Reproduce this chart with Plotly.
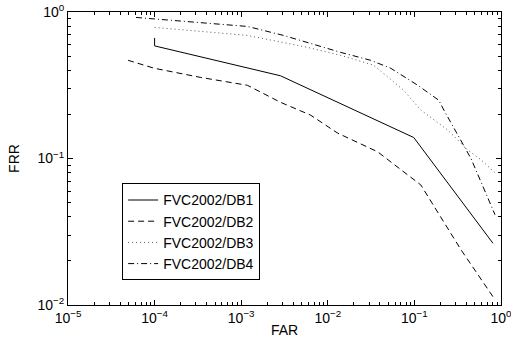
import plotly.graph_objects as go

# ---- data ----
db1_far = [1e-4, 1e-4, 2.84e-3, 0.0984, 0.807]
db1_frr = [0.665, 0.587, 0.367, 0.139, 0.0264]

db2_far = [4.94e-5, 9.9e-5, 3.37e-4, 1.18e-3, 2.84e-3, 6.3e-3, 0.013, 0.0377, 0.1186, 0.202, 0.344, 0.807]
db2_frr = [0.468, 0.413, 0.358, 0.316, 0.242, 0.198, 0.149, 0.111, 0.066, 0.040, 0.0239, 0.0114]

db3_far = [1.0e-4, 1.18e-3, 5.8e-3, 0.0141, 0.0339, 0.0753, 0.1186, 0.244, 0.415, 0.588, 0.853]
db3_frr = [0.785, 0.692, 0.574, 0.506, 0.433, 0.292, 0.214, 0.156, 0.114, 0.098, 0.080]

db4_far = [6.1e-5, 1.18e-3, 3.08e-3, 0.0141, 0.0313, 0.0533, 0.1094, 0.191, 0.219, 0.45, 0.853]
db4_frr = [0.918, 0.797, 0.692, 0.530, 0.468, 0.413, 0.316, 0.250, 0.214, 0.100, 0.0413]

series_names = ["FVC2002/DB1", "FVC2002/DB2", "FVC2002/DB3", "FVC2002/DB4"]

x_decades = [1e-5, 1e-4, 1e-3, 1e-2, 1e-1, 1e0]
x_ticktext = ["10<sup>−5</sup>", "10<sup>−4</sup>", "10<sup>−3</sup>", "10<sup>−2</sup>", "10<sup>−1</sup>", "10<sup>0</sup>"]
y_decades = [1e-2, 1e-1, 1e0]
y_ticktext = ["10<sup>−2</sup>", "10<sup>−1</sup>", "10<sup>0</sup>"]
minor_mults = [2, 3, 4, 5, 6, 7, 8, 9]

x_minor = [d * m for d in x_decades[:-1] for m in minor_mults]
y_minor = [d * m for d in y_decades[:-1] for m in minor_mults]

FONT = "Liberation Sans, Arial, sans-serif"

fig = go.Figure()
styles = [
    dict(color="black", width=1, dash="solid"),
    dict(color="black", width=1, dash="6px,4px"),
    dict(color="#555555", width=1, dash="1px,3px"),
    dict(color="black", width=1, dash="6px,3px,1px,3px"),
]
data = [(db1_far, db1_frr), (db2_far, db2_frr), (db3_far, db3_frr), (db4_far, db4_frr)]
for (xs, ys), name, st in zip(data, series_names, styles):
    fig.add_trace(go.Scatter(x=xs, y=ys, mode="lines", name=name, line=st))

axis_common = dict(
    type="log",
    automargin=False,
    showgrid=False,
    zeroline=False,
    showline=True,
    linecolor="black",
    linewidth=1,
    mirror="allticks",
    ticks="inside",
    ticklen=5,
    tickwidth=1,
    tickcolor="black",
    ticklabeloverflow="allow",
    tickfont=dict(family=FONT, size=14, color="black"),
    title_font=dict(family=FONT, size=14, color="black"),
)

fig.update_xaxes(
    **axis_common,
    range=[-5, 0],
    tickmode="array",
    tickvals=x_decades,
    ticktext=x_ticktext,
    minor=dict(tickmode="array", tickvals=x_minor, ticks="inside", ticklen=3,
               tickcolor="black", tickwidth=1, showgrid=False),
    title_text="FAR",
    title_standoff=0,
)
fig.update_yaxes(
    **axis_common,
    range=[-2, 0],
    tickmode="array",
    tickvals=y_decades,
    ticktext=y_ticktext,
    minor=dict(tickmode="array", tickvals=y_minor, ticks="inside", ticklen=3,
               tickcolor="black", tickwidth=1, showgrid=False),
    title_text="FRR",
    title_standoff=14,
)

fig.update_layout(
    width=511,
    height=347,
    margin=dict(l=68, r=10, t=12, b=42),
    plot_bgcolor="white",
    paper_bgcolor="white",
    font=dict(family=FONT, size=13, color="black"),
    legend=dict(
        x=0.125, y=0.415, xanchor="left", yanchor="top",
        bgcolor="white", bordercolor="black", borderwidth=1,
        font=dict(family=FONT, size=14, color="black"),
        tracegroupgap=0, itemwidth=30,
    ),
    showlegend=True,
)

fig.write_html("out.html", config={"displayModeBar": False},
               post_script="document.body.style.margin='0px';")
